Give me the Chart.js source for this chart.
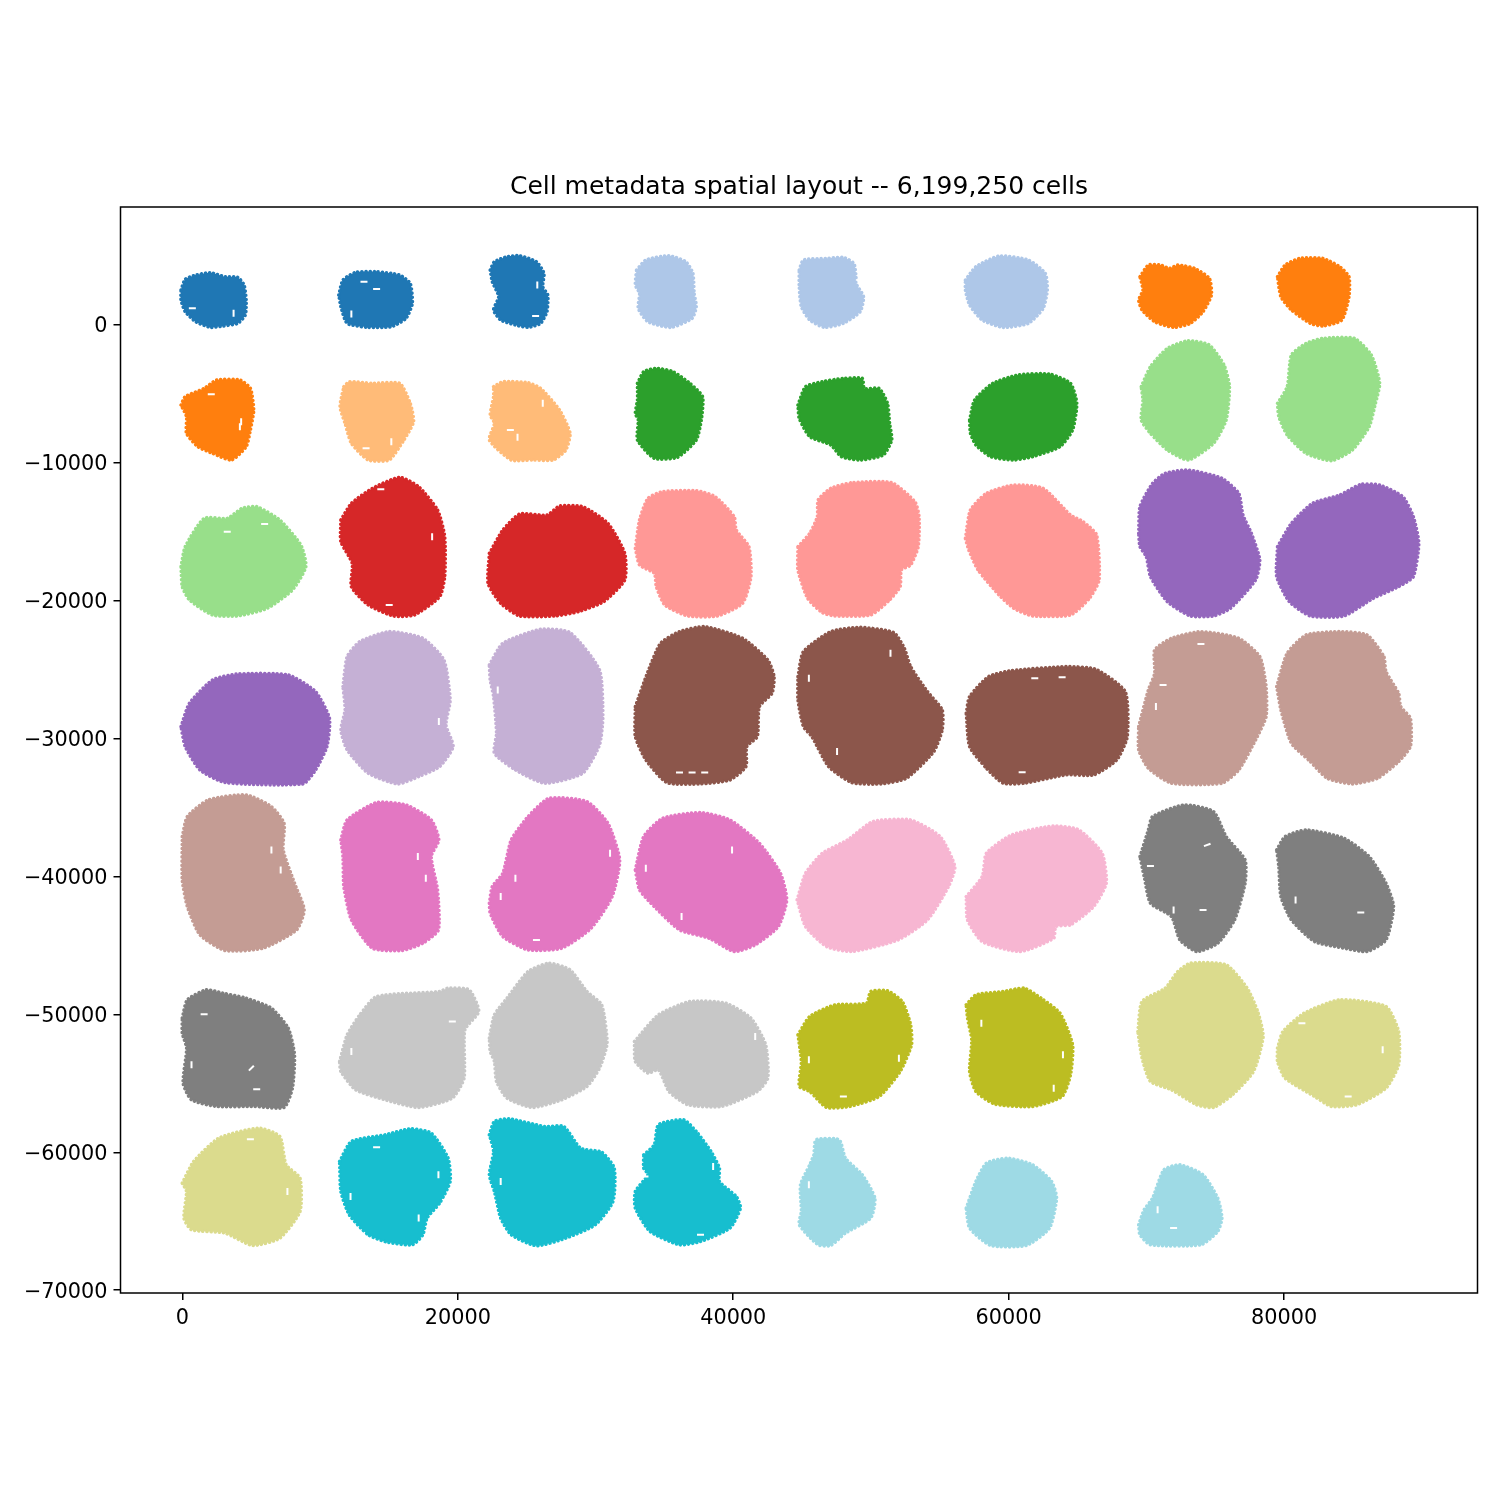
<!DOCTYPE html>
<html>
<head>
<meta charset="utf-8">
<title>Cell metadata spatial layout</title>
<script src="https://cdn.jsdelivr.net/npm/chart.js@4/dist/chart.umd.min.js"></script>
<style>
  html, body { margin: 0; padding: 0; background: #fff; }
  #wrap { width: 1500px; height: 1500px; }
</style>
</head>
<body>
<div id="wrap"><canvas id="layoutChart" width="1500" height="1500"></canvas></div>
<script>
// --- 1. DATA (section outlines, [x, y] in data units) ---
const chartTitle = "Cell metadata spatial layout -- 6,199,250 cells";
const xTicks = [0, 20000, 40000, 60000, 80000];
const yTicks = [0, -10000, -20000, -30000, -40000, -50000, -60000, -70000];

// row 1
const sec01 = [[-107,2537],[198,3311],[962,3625],[2031,3794],[3101,3504],[4017,3456],[4475,2900],[4628,1812],[4567,725],[4017,121],[2948,-73],[2031,-170],[962,241],[198,967],[-107,1812]];
const sec02 = [[11349,2175],[11654,3263],[12571,3819],[14099,3867],[15779,3625],[16543,3021],[16695,1571],[16237,483],[15168,-121],[13488,-170],[11960,121],[11502,1329]];
const sec03 = [[22347,3988],[22653,4592],[23569,4955],[24486,5027],[25708,4592],[26257,3746],[26166,2779],[26532,2175],[26471,967],[26013,121],[25097,-170],[24180,0],[23111,362],[22591,1087],[22958,2054],[22500,3142]];
const sec04 = [[32978,3988],[33651,4713],[35331,5027],[36553,4592],[37072,3746],[37164,2296],[37317,1329],[37011,483],[35484,-170],[33803,241],[33101,1208],[33192,2296],[32887,2900]];
const sec05 = [[44790,3988],[45095,4713],[46776,4834],[47998,4906],[48761,4471],[48914,3504],[48914,3021],[49464,2054],[49220,967],[47998,121],[46623,-170],[45554,362],[44943,1329],[44790,2779]];
const sec06 = [[56857,3263],[57621,4229],[59301,5003],[61440,4713],[62662,3746],[62814,2537],[62509,1208],[61440,121],[59607,-170],[58079,362],[57163,1450],[56857,2537]];
const sec07 = [[69535,3504],[70146,4350],[71063,4350],[71674,4108],[72285,4350],[73507,4108],[74576,3383],[74729,2175],[74118,967],[73201,121],[71979,-170],[70604,241],[69688,1087],[69443,1812],[69749,2537]];
const sec08 = [[79525,3504],[80075,4350],[81144,4834],[82825,4834],[84046,4229],[84718,3504],[84718,2054],[84199,362],[82825,-73],[81908,121],[80533,1087],[79770,2054]];
// row 2
const sec09 = [[-107,-5801],[198,-5197],[1573,-4593],[2490,-3988],[4170,-3988],[4934,-4593],[5178,-6164],[4934,-7614],[4628,-8822],[3559,-9789],[2184,-9306],[1115,-8822],[290,-7856],[290,-6647]];
const sec10 = [[11716,-4472],[12113,-4109],[13793,-4230],[15779,-4230],[16543,-5680],[16787,-7010],[16084,-8339],[15015,-9789],[13488,-9789],[12266,-8581],[11807,-7131],[11440,-5922]];
const sec11 = [[22591,-4472],[23264,-4109],[25097,-4182],[26013,-4593],[27388,-6164],[28152,-7856],[27846,-9064],[26930,-9789],[25402,-9789],[23875,-9789],[22286,-8339],[22653,-7131],[22347,-6526],[22591,-5197]];
const sec12 = [[33040,-4230],[33497,-3384],[34414,-3142],[35636,-3384],[36858,-4230],[37775,-5197],[37683,-6889],[37317,-8339],[35943,-9595],[34262,-9668],[33040,-8339],[33101,-6889],[32887,-6405],[33040,-5439]];
const sec13 = [[44698,-5801],[45248,-4472],[46470,-4109],[47998,-3867],[49372,-3867],[49525,-4593],[50594,-4593],[51205,-5680],[51358,-7131],[51511,-8339],[50900,-9427],[49220,-9789],[47845,-9548],[47081,-8701],[45554,-8097],[44790,-6768]];
const sec14 = [[57163,-6889],[57529,-5439],[58843,-4230],[60676,-3625],[62967,-3553],[64495,-4230],[64953,-5680],[64647,-7614],[63731,-8822],[61745,-9548],[60370,-9789],[58690,-9548],[57621,-8701],[57224,-7856]];
const sec15 = [[69627,-4472],[70299,-3021],[71521,-1692],[73049,-1136],[74576,-1450],[75645,-2900],[76042,-4472],[75798,-6889],[74882,-8581],[73049,-9789],[71521,-9064],[70299,-7856],[69627,-6889],[69749,-5439]];
const sec16 = [[79525,-5680],[80228,-4472],[80533,-2176],[81603,-1330],[82825,-967],[85116,-967],[86338,-2176],[86949,-4230],[86643,-5680],[86185,-7372],[84963,-9064],[83436,-9838],[81603,-9306],[80228,-7976],[79617,-6647]];
// row 3
const sec17 = [[-107,-17524],[198,-16073],[1573,-14019],[3253,-14019],[4323,-13294],[5392,-13173],[7072,-14140],[8600,-15953],[8966,-17524],[7989,-19216],[6156,-20545],[4017,-21101],[2184,-21028],[504,-19941],[-16,-18974]];
const sec18 = [[11502,-14140],[12266,-12931],[13793,-11843],[15779,-11046],[17154,-11723],[18528,-13415],[19048,-15348],[19048,-18249],[18681,-19699],[16848,-21028],[15321,-21101],[13488,-20303],[12266,-18974],[12327,-17282],[11502,-15711]];
const sec19 = [[22286,-16557],[23264,-14865],[24486,-13705],[26471,-13777],[27388,-13125],[29068,-13173],[30901,-14381],[32123,-16557],[32123,-18490],[30596,-20061],[28763,-20786],[27082,-21101],[24486,-21101],[23111,-20182],[22194,-18732]];
const sec20 = [[32887,-16194],[33192,-14140],[33803,-12568],[34872,-12085],[37317,-12013],[38692,-12448],[40066,-13898],[40219,-14865],[41135,-16073],[41288,-18249],[40677,-20182],[38844,-21101],[36706,-21101],[35025,-20303],[34414,-18974],[34262,-18007],[33192,-17402]];
const sec21 = [[44698,-16073],[45554,-15104],[46103,-13898],[46165,-12689],[47081,-11843],[48609,-11432],[51511,-11432],[53191,-12810],[53497,-13898],[53435,-16073],[52886,-17402],[52213,-17765],[52122,-18974],[51358,-19941],[49983,-21028],[47387,-21101],[46470,-20859],[45401,-19820],[44698,-17765]];
const sec22 = [[56857,-15469],[57224,-13415],[58384,-12206],[60370,-11602],[62509,-11843],[64495,-13777],[65411,-14260],[66389,-15226],[66572,-18490],[65869,-19820],[64495,-21028],[61745,-21101],[60370,-20545],[59301,-19578],[57774,-17765],[57101,-16315]];
const sec23 = [[69443,-15106],[69535,-13173],[70452,-11481],[71368,-10756],[73049,-10514],[75493,-11118],[76715,-12206],[77020,-13777],[77631,-15106],[78242,-17040],[77937,-18490],[76104,-20545],[74882,-21101],[73201,-21101],[71521,-20061],[70299,-18249],[69994,-16799],[69535,-16073]];
const sec24 = [[79525,-16073],[80533,-14381],[82061,-12931],[84046,-12327],[85574,-11554],[86949,-11602],[88629,-12448],[89393,-13898],[89790,-15832],[89393,-18249],[88324,-18974],[86491,-19820],[84352,-21101],[81908,-21101],[80381,-20061],[79464,-18249]];
// row 4
const sec25 = [[-107,-29122],[504,-27431],[2184,-25739],[4017,-25304],[7683,-25376],[9669,-26585],[10677,-28518],[10494,-30573],[9669,-32265],[8752,-33280],[3101,-33183],[1268,-32265],[198,-30573]];
const sec26 = [[11654,-26222],[11960,-24047],[12877,-22959],[15015,-22234],[17459,-22717],[18987,-24288],[19445,-27189],[19139,-29002],[19658,-30573],[18681,-32023],[17154,-32748],[15626,-33280],[13488,-32506],[11960,-30814],[11502,-29364],[11807,-27914]];
const sec27 = [[22286,-24651],[23264,-23080],[26013,-22065],[28152,-22306],[30290,-25014],[30534,-28397],[30290,-30452],[29068,-32506],[26319,-33231],[24180,-32265],[22653,-31056],[22805,-29606],[22591,-26947],[22347,-25739]];
const sec28 = [[32887,-27672],[33803,-25134],[34719,-23080],[36095,-22234],[37928,-21871],[40677,-22717],[42510,-24288],[42968,-25497],[42816,-26705],[41899,-27672],[41747,-29848],[40983,-30573],[40921,-32023],[39761,-32990],[37622,-33280],[35178,-33183],[33651,-31539],[32887,-29848]];
const sec29 = [[44698,-25497],[45095,-23684],[47081,-22234],[49220,-21920],[51664,-22306],[52427,-23442],[52886,-24772],[54108,-26585],[55177,-27914],[55177,-29364],[54566,-30935],[52580,-32869],[50747,-33280],[48609,-33183],[46928,-32023],[45706,-29848],[45095,-29122],[44698,-27189]];
const sec30 = [[56918,-28156],[57163,-26947],[58537,-25497],[60218,-25062],[64189,-24772],[66328,-24965],[68466,-26585],[68619,-29848],[67855,-31539],[66175,-32627],[64189,-32627],[61134,-33231],[59607,-33231],[58384,-32144],[57163,-30573]];
const sec31 = [[69443,-29122],[70146,-26464],[70604,-25255],[70604,-23563],[71826,-22717],[73965,-22234],[76715,-22717],[78242,-24047],[78700,-26222],[78700,-28397],[77937,-30089],[76715,-32265],[75493,-33231],[71826,-33231],[70146,-32144],[69443,-30814]];
const sec32 = [[79464,-26222],[80228,-23805],[81603,-22476],[84046,-22234],[86032,-22476],[87254,-24047],[87407,-25134],[88324,-26705],[88476,-27672],[89179,-28518],[89179,-30573],[88324,-31660],[86796,-32869],[84963,-33280],[83130,-32869],[81908,-31660],[80533,-30331],[79770,-27914]];
// row 5
const sec33 = [[-16,-37098],[351,-35648],[1879,-34440],[4628,-34077],[6461,-34923],[7378,-36132],[7316,-38065],[8141,-40482],[8844,-42416],[8294,-43866],[5850,-45195],[3101,-45365],[1268,-44229],[351,-42174],[-16,-40241]];
const sec34 = [[11502,-37340],[11960,-35890],[14099,-34633],[16237,-34802],[18070,-35890],[18620,-37340],[18070,-38549],[18528,-40966],[18589,-43866],[17459,-44833],[15932,-45365],[13793,-45195],[12266,-43141],[11716,-40724],[11654,-38549]];
const sec35 = [[22286,-41933],[22500,-40724],[23264,-39757],[23875,-37340],[25097,-35648],[26624,-34319],[29374,-34561],[30901,-36132],[31756,-38790],[31207,-41449],[29679,-43745],[27541,-45195],[25097,-45316],[23264,-44350],[22347,-42658]];
const sec36 = [[32887,-39516],[33497,-37098],[34872,-35769],[37622,-35358],[39761,-35890],[41899,-37582],[43427,-39757],[43886,-41691],[43274,-43624],[41594,-44953],[40066,-45437],[38233,-44470],[36095,-43866],[34262,-42174],[33192,-40966]];
const sec37 = [[44637,-41691],[45248,-39757],[46470,-38307],[48303,-37340],[50136,-36011],[52886,-35890],[55024,-37098],[56093,-39274],[55635,-40724],[54108,-43141],[51969,-44591],[48609,-45437],[46776,-45075],[45248,-43624]];
const sec38 = [[56918,-41449],[58079,-39999],[58384,-38307],[60218,-36978],[63273,-36325],[65106,-36615],[66786,-38307],[67091,-40482],[66175,-42174],[64495,-43503],[63425,-43624],[63273,-44470],[60829,-45437],[58079,-44712],[57010,-43141]];
const sec39 = [[69535,-38549],[70146,-36615],[70452,-35648],[72743,-34802],[74882,-35286],[75798,-37098],[77174,-38790],[77174,-40482],[76410,-43141],[75187,-44833],[73660,-45437],[72437,-44591],[71826,-42899],[70299,-41933],[69841,-39999]];
const sec40 = [[79464,-38065],[80075,-37098],[81603,-36615],[84352,-37219],[86185,-38549],[87407,-40482],[87957,-42174],[87407,-44591],[86032,-45437],[84352,-45195],[82214,-44712],[80533,-43141],[79770,-41449],[79617,-39274]];
// row 6
const sec41 = [[-16,-50267],[351,-48938],[1726,-48213],[2948,-48455],[4628,-48817],[6461,-49542],[7683,-50992],[8141,-52926],[7989,-55343],[7378,-56745],[5239,-56672],[2490,-56672],[657,-56189],[46,-54980],[300,-52443],[-16,-51355]];
const sec42 = [[11410,-53409],[11960,-51476],[12877,-50026],[14099,-48696],[18681,-48334],[19292,-48092],[20820,-48213],[21522,-49784],[20514,-51113],[20453,-54618],[19598,-56068],[17154,-56745],[14710,-56189],[12571,-55464],[11502,-54135]];
const sec43 = [[22286,-51718],[22653,-50026],[23569,-48817],[25097,-46884],[26624,-46279],[28152,-46763],[29374,-48334],[30443,-49301],[30840,-52080],[30290,-53893],[29374,-55222],[27541,-56189],[25402,-56745],[23569,-56068],[22805,-54860],[22653,-53409],[22347,-52684]];
const sec44 = [[32825,-51959],[34567,-50026],[36858,-49059],[39455,-49180],[41288,-50267],[42358,-52201],[42510,-54618],[41747,-55585],[39150,-56672],[36706,-56552],[35331,-55585],[34567,-54014],[33803,-54255],[32887,-53409]];
const sec45 = [[44698,-51476],[45554,-50147],[47387,-49301],[49678,-49180],[49983,-48334],[51205,-48285],[52275,-49059],[52886,-50751],[52947,-52201],[52122,-54135],[50594,-55947],[48456,-56672],[46776,-56745],[45554,-55585],[44790,-55222],[44943,-53409]];
const sec46 = [[56918,-49301],[57621,-48575],[59607,-48334],[61134,-48092],[62356,-48817],[63731,-49905],[64647,-52201],[64495,-54376],[63884,-55947],[61745,-56672],[58995,-56503],[57621,-55585],[57163,-54135],[57315,-51838],[57010,-50267]];
const sec47 = [[69383,-51234],[69688,-49059],[71368,-48092],[72285,-46884],[73201,-46279],[75798,-46400],[77326,-48092],[78089,-49784],[78486,-51597],[77784,-54135],[76256,-55826],[74882,-56745],[73660,-56552],[71826,-55464],[70299,-54860],[69688,-53168]];
const sec48 = [[79525,-52443],[79922,-51234],[81450,-49905],[84046,-48938],[87407,-49421],[88324,-51234],[88324,-53651],[87407,-55343],[85269,-56552],[83436,-56672],[82214,-55947],[80075,-54618],[79525,-53409]];
// row 7
const sec49 = [[-16,-62232],[809,-60660],[2642,-58968],[5545,-58243],[7072,-58847],[7530,-60902],[8538,-61869],[8538,-64286],[7072,-66219],[5086,-66751],[3101,-65857],[657,-65615],[107,-64769],[290,-62835]];
const sec50 = [[11410,-60660],[12266,-59210],[14710,-58727],[16543,-58292],[18070,-58606],[19292,-60419],[19445,-62111],[18681,-63682],[17765,-64769],[17459,-65978],[16695,-66703],[14862,-66510],[13488,-65978],[12113,-64528],[11502,-62835]];
const sec51 = [[22286,-58727],[22653,-57760],[23722,-57567],[26319,-58123],[27693,-58123],[28915,-59694],[30443,-59983],[31359,-61144],[31268,-63561],[29985,-65253],[27846,-66219],[25708,-66775],[23875,-65978],[23111,-64769],[22653,-62835],[22286,-61627],[22591,-59935]];
const sec52 = [[33497,-60177],[34262,-59452],[34567,-57998],[36400,-57639],[37317,-58485],[38386,-59935],[38997,-61144],[38997,-62111],[40219,-63198],[40525,-64044],[39761,-65494],[37622,-66461],[36095,-66703],[33956,-65736],[32887,-64044],[32887,-62835],[33803,-61627],[33497,-61144]];
const sec53 = [[45859,-60177],[46012,-59089],[47692,-59089],[48150,-60419],[49372,-61627],[50289,-63319],[49983,-64769],[48150,-65857],[47081,-66751],[46165,-66703],[44790,-65253],[44943,-64286],[44881,-62352],[45554,-60902]];
const sec54 = [[56918,-64044],[57621,-62111],[58384,-60781],[59912,-60419],[61745,-60902],[63120,-62111],[63486,-63319],[62967,-65494],[61287,-66751],[58690,-66751],[57163,-65494]];
const sec55 = [[69443,-65253],[69841,-64165],[70452,-63319],[71277,-61264],[72437,-60902],[74118,-61627],[75187,-63319],[75493,-64769],[75187,-65736],[73965,-66703],[70299,-66703],[69535,-65978]];

const sections = [
    sec01, sec02, sec03, sec04, sec05, sec06, sec07, sec08, sec09, sec10, sec11,
    sec12, sec13, sec14, sec15, sec16, sec17, sec18, sec19, sec20, sec21, sec22,
    sec23, sec24, sec25, sec26, sec27, sec28, sec29, sec30, sec31, sec32, sec33,
    sec34, sec35, sec36, sec37, sec38, sec39, sec40, sec41, sec42, sec43, sec44,
    sec45, sec46, sec47, sec48, sec49, sec50, sec51, sec52, sec53, sec54, sec55
];

// tab20 colour of each section, in drawing order
const sectionColors = [
    "#1f77b4", "#1f77b4", "#1f77b4", "#aec7e8", "#aec7e8", "#aec7e8", "#ff7f0e", "#ff7f0e", "#ff7f0e", "#ffbb78", "#ffbb78",
    "#2ca02c", "#2ca02c", "#2ca02c", "#98df8a", "#98df8a", "#98df8a", "#d62728", "#d62728", "#ff9896", "#ff9896", "#ff9896",
    "#9467bd", "#9467bd", "#9467bd", "#c5b0d5", "#c5b0d5", "#8c564b", "#8c564b", "#8c564b", "#c49c94", "#c49c94", "#c49c94",
    "#e377c2", "#e377c2", "#e377c2", "#f7b6d2", "#f7b6d2", "#7f7f7f", "#7f7f7f", "#7f7f7f", "#c7c7c7", "#c7c7c7", "#c7c7c7",
    "#bcbd22", "#bcbd22", "#dbdb8d", "#dbdb8d", "#dbdb8d", "#17becf", "#17becf", "#17becf", "#9edae5", "#9edae5", "#9edae5"
];

// empty slivers inside the sections, and which way each one runs
const gapX = [718,3712,14099,12266,13182,25769,25647,2092,4170,4261,15168,13335,26166,23814,24333,3253,5968,14404,18131,15015,18620,22897,37011,36095,37928,6461,7133,17093,17673,24180,23111,31053,25708,33651,39913,36247,51419,45492,47539,63884,60981,61898,70696,71215,73965,74423,71979,70299,74118,85574,80838,5003,5392,657,1573,19598,12266,41594,14099,18589,17154,12205,23111,33589,38539,37622,4933,7622,45492,52030,47998,58018,63944,63273,81297,87163,84657,70819,71979,45492];
const gapY = [1208,846,2610,797,3142,2900,652,-5028,-7372,-7010,-8460,-8943,-5680,-7614,-8145,-14985,-14430,-11916,-15348,-20303,-28760,-26464,-32458,-32458,-32458,-38065,-39516,-38549,-40120,-40120,-41449,-38307,-44591,-39395,-38065,-42899,-23805,-25618,-30935,-25545,-32434,-25618,-27672,-26101,-23128,-37703,-42416,-39225,-42416,-42610,-41691,-53893,-55416,-53651,-49977,-50509,-52684,-51597,-59621,-61627,-64769,-63198,-62111,-61748,-61023,-65978,-59041,-62835,-53289,-53168,-55947,-50630,-52926,-55343,-50630,-52563,-55947,-64165,-65494,-62352];
const gapTilt = [0,90,0,90,0,90,0,0,90,90,90,0,90,0,90,0,0,0,90,0,90,90,0,0,0,90,90,90,90,90,90,90,0,90,90,90,90,90,90,0,0,0,90,0,0,160,90,0,0,0,90,135,0,90,0,0,90,90,0,90,90,90,90,0,90,0,0,90,90,90,0,90,90,90,0,90,0,90,0,90];

// --- 2. Frame around the plot area ---
const framePlugin = {
    id: "frame",
    afterDraw(chart) {
        const { ctx, chartArea } = chart;
        ctx.save();
        ctx.strokeStyle = "#000";
        ctx.lineWidth = 1.5;
        ctx.strokeRect(chartArea.left, chartArea.top, chartArea.width, chartArea.height);
        ctx.restore();
    }
};

// --- 3. Datasets ---
const outlineSets = sections.map((pts, i) => {
    const closed = pts.concat([pts[0]]);
    return {
        label: "section " + (i + 1),
        data: closed.map(p => ({ x: p[0], y: p[1] })),
        showLine: true,
        fill: "shape",
        backgroundColor: sectionColors[i],
        borderColor: sectionColors[i],
        borderWidth: 3.5,
        borderDash: [0.1, 4],       // round dots along the edge, like the scatter's rough rim
        borderCapStyle: "round",
        tension: 0.2,
        pointRadius: 0,
        order: 1
    };
});

const gapSet = {
    label: "gaps",
    data: gapX.map((x, i) => ({ x: x, y: gapY[i] })),
    pointStyle: "line",
    pointRotation: gapTilt,
    pointBorderColor: "#fff",
    pointBorderWidth: 2,
    pointRadius: 3.5,
    order: 0
};

// --- 4. Chart ---
const tickFont = { family: "'DejaVu Sans'", size: 20.8 };

new Chart(document.getElementById("layoutChart").getContext("2d"), {
    type: "scatter",
    data: { datasets: outlineSets.concat([gapSet]) },
    plugins: [framePlugin],
    options: {
        responsive: false,
        animation: false,
        layout: { padding: { left: 0, top: 0, right: 22.5, bottom: 0 } },
        plugins: {
            legend: { display: false },
            tooltip: { enabled: false },
            title: {
                display: true,
                text: chartTitle,
                color: "#000",
                fullSize: false,
                font: { family: "'DejaVu Sans'", size: 25, weight: "normal", lineHeight: 1.2 },
                padding: { top: 172, bottom: 5 }
            }
        },
        scales: {
            x: {
                type: "linear",
                min: -4500,
                max: 94050,
                border: { display: false },
                grid: { drawOnChartArea: false, color: "#000", lineWidth: 1.5, tickLength: 7 },
                ticks: { color: "#000", font: tickFont, padding: 6, maxRotation: 0, callback: v => String(v) },
                afterBuildTicks: axis => { axis.ticks = xTicks.map(v => ({ value: v })); },
                afterFit: axis => { axis.height = 207; }
            },
            y: {
                type: "linear",
                min: -70200,
                max: 8560,
                border: { display: false },
                grid: { drawOnChartArea: false, color: "#000", lineWidth: 1.5, tickLength: 7 },
                ticks: { color: "#000", font: tickFont, padding: 6, labelOffset: 2, callback: v => String(v).replace("-", "\u2212") },
                afterBuildTicks: axis => { axis.ticks = yTicks.map(v => ({ value: v })); },
                afterFit: axis => { axis.width = 120.5; }
            }
        }
    }
});
</script>
</body>
</html>
